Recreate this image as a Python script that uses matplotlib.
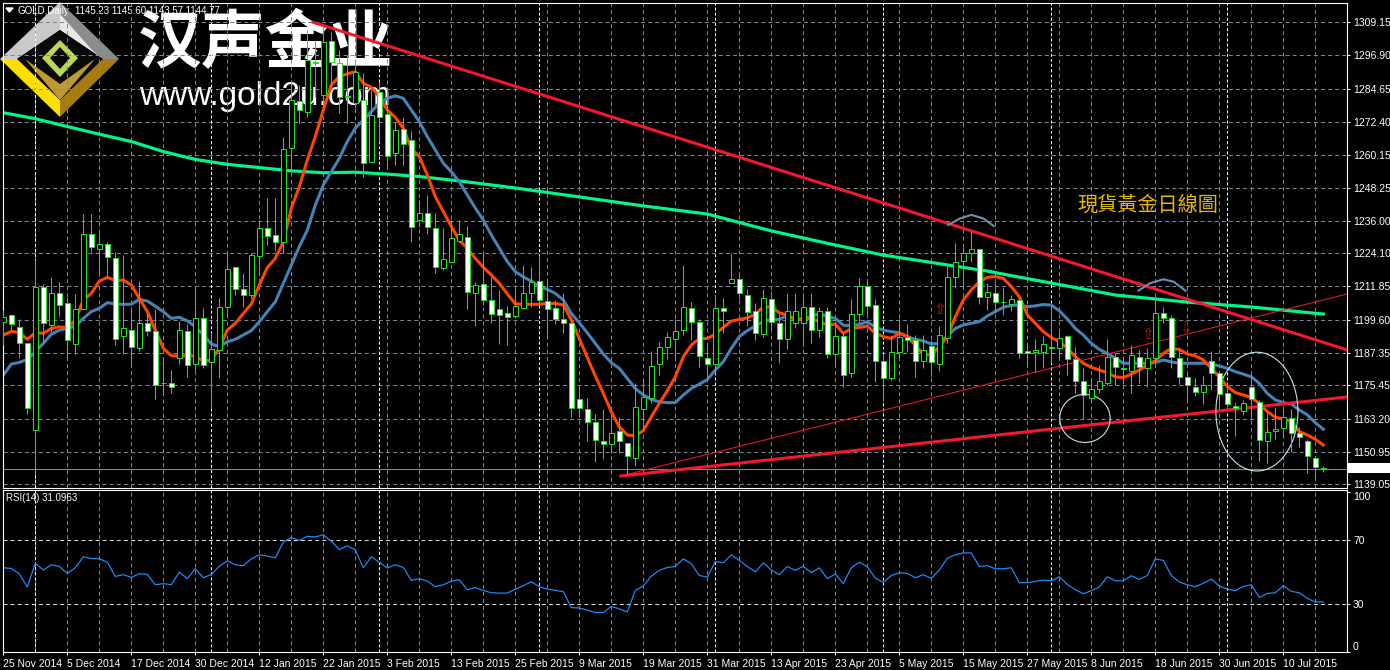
import matplotlib
matplotlib.use('Agg')
import matplotlib.pyplot as plt
import numpy as np
from matplotlib.patches import Ellipse, Polygon, Rectangle

plt.rcParams['font.family'] = ['Liberation Sans', 'DejaVu Sans']
plt.rcParams['lines.scale_dashes'] = False

# daily bars
opens = [1198.8, 1201.2, 1196.8, 1190.9, 1159.2, 1211.5, 1197.8, 1209.3, 1205.6, 1190.5,
         1203.4, 1231.0, 1225.7, 1227.3, 1222.2, 1193.5, 1196.0, 1189.3, 1198.3, 1195.3,
         1176.2, 1176.2, 1185.4, 1195.3, 1183.2, 1200.1, 1183.9, 1188.3, 1204.4, 1218.9,
         1210.8, 1208.6, 1222.9, 1233.2, 1230.7, 1228.3, 1262.8, 1280.2, 1276.2, 1294.6,
         1282.3, 1302.3, 1294.0, 1281.6, 1279.4, 1280.5, 1257.8, 1283.5, 1275.2, 1260.9,
         1269.8, 1265.8, 1236.3, 1238.8, 1233.5, 1218.8, 1220.7, 1228.7, 1230.2, 1209.3,
         1212.6, 1206.7, 1203.4, 1202.2, 1201.1, 1204.0, 1209.3, 1213.7, 1206.4, 1203.8,
         1200.0, 1198.3, 1170.3, 1166.6, 1161.8, 1154.8, 1153.7, 1158.5, 1154.1, 1148.9,
         1166.9, 1170.8, 1183.5, 1189.4, 1192.7, 1195.7, 1203.8, 1198.6, 1185.7, 1183.4,
         1203.8, 1213.2, 1214.7, 1208.6, 1202.7, 1194.2, 1207.1, 1198.3, 1192.4, 1198.3,
         1198.3, 1204.4, 1195.7, 1202.7, 1186.9, 1193.8, 1179.9, 1201.9, 1211.9, 1204.9,
         1184.3, 1178.0, 1187.8, 1193.1, 1192.0, 1184.5, 1189.8, 1183.2, 1192.8, 1215.5,
         1221.3, 1224.0, 1225.5, 1207.8, 1209.3, 1206.3, 1205.4, 1206.7, 1188.0, 1187.6,
         1187.6, 1189.4, 1189.1, 1193.5, 1185.0, 1176.9, 1170.7, 1174.0, 1176.4, 1186.0,
         1181.7, 1180.6, 1185.8, 1181.7, 1185.4, 1202.0, 1200.1, 1185.4, 1178.4, 1174.7,
         1172.9, 1184.3, 1180.1, 1172.5, 1167.9, 1165.9, 1174.7, 1169.2, 1154.9, 1158.5,
         1159.6, 1163.3, 1157.8, 1154.8, 1148.6, 1145.23]
highs = [1203.2, 1201.7, 1199.7, 1190.9, 1221.6, 1212.6, 1215.2, 1213.5, 1208.1, 1209.0,
         1238.5, 1238.5, 1232.6, 1228.2, 1224.5, 1223.4, 1203.8, 1213.8, 1201.9, 1203.4,
         1186.0, 1181.1, 1199.1, 1198.0, 1210.9, 1203.8, 1194.9, 1207.5, 1224.0, 1218.9,
         1216.7, 1224.0, 1236.3, 1244.4, 1244.4, 1266.7, 1287.8, 1286.0, 1306.2, 1302.6,
         1307.0, 1305.5, 1298.9, 1297.0, 1295.2, 1290.4, 1284.2, 1287.1, 1285.3, 1272.5,
         1274.1, 1269.2, 1243.7, 1245.5, 1238.8, 1233.3, 1236.3, 1236.3, 1234.1, 1213.6,
         1224.0, 1215.4, 1210.5, 1204.6, 1212.4, 1219.7, 1219.1, 1223.4, 1214.8, 1206.9,
         1209.3, 1200.7, 1175.3, 1170.7, 1165.1, 1166.6, 1163.9, 1163.9, 1154.1, 1176.2,
         1177.6, 1188.1, 1191.5, 1195.2, 1199.7, 1219.6, 1206.0, 1199.7, 1190.5, 1208.7,
         1207.5, 1224.0, 1216.9, 1210.8, 1205.6, 1210.8, 1210.3, 1201.7, 1209.3, 1209.3,
         1208.1, 1209.3, 1204.2, 1204.2, 1198.3, 1195.2, 1207.1, 1214.8, 1214.5, 1207.1,
         1187.2, 1194.0, 1199.7, 1198.0, 1194.0, 1194.0, 1192.1, 1197.3, 1219.2, 1227.7,
         1226.5, 1232.0, 1225.5, 1213.0, 1213.0, 1211.8, 1208.7, 1207.5, 1190.9, 1192.4,
         1193.6, 1204.4, 1195.8, 1194.0, 1189.7, 1181.7, 1178.0, 1182.9, 1192.5, 1187.2,
         1186.3, 1190.3, 1188.5, 1189.1, 1206.3, 1204.4, 1201.3, 1189.1, 1180.5, 1178.0,
         1178.9, 1188.1, 1180.1, 1176.8, 1169.4, 1170.1, 1179.9, 1170.1, 1165.2, 1167.6,
         1166.4, 1166.6, 1160.3, 1155.9, 1149.5, 1145.60]
lows = [1190.3, 1195.8, 1185.4, 1164.9, 1142.4, 1191.5, 1195.2, 1201.0, 1185.4, 1187.0,
        1203.4, 1224.5, 1215.7, 1214.8, 1190.3, 1187.0, 1183.2, 1188.2, 1193.6, 1170.4,
        1171.9, 1172.7, 1183.3, 1178.6, 1180.8, 1181.7, 1167.2, 1178.3, 1200.7, 1208.7,
        1204.4, 1207.5, 1217.5, 1227.1, 1225.0, 1224.0, 1254.7, 1272.0, 1274.2, 1281.6,
        1277.9, 1284.9, 1275.7, 1272.0, 1277.5, 1252.1, 1257.8, 1265.1, 1255.8, 1256.6,
        1256.6, 1228.3, 1233.9, 1231.0, 1216.7, 1217.9, 1220.7, 1227.7, 1203.5, 1197.3,
        1205.0, 1198.3, 1190.7, 1190.3, 1200.7, 1203.4, 1204.4, 1204.6, 1194.0, 1198.0,
        1194.8, 1163.9, 1163.9, 1155.1, 1147.3, 1148.3, 1150.4, 1150.4, 1143.0, 1145.7,
        1159.0, 1169.1, 1179.2, 1185.1, 1185.4, 1194.0, 1192.1, 1182.3, 1178.0, 1179.9,
        1194.6, 1213.0, 1207.2, 1197.3, 1192.1, 1193.1, 1195.8, 1183.8, 1188.8, 1196.4,
        1191.2, 1191.2, 1193.1, 1185.7, 1183.5, 1175.0, 1178.4, 1198.3, 1201.9, 1176.8,
        1169.8, 1177.4, 1185.4, 1187.8, 1178.6, 1181.7, 1178.6, 1180.9, 1190.9, 1211.2,
        1211.2, 1221.0, 1205.4, 1203.2, 1202.6, 1201.4, 1202.8, 1185.6, 1182.9, 1180.5,
        1182.0, 1183.6, 1185.0, 1179.3, 1172.8, 1162.9, 1169.2, 1172.5, 1175.6, 1175.6,
        1175.9, 1172.8, 1176.2, 1174.7, 1183.6, 1198.3, 1181.7, 1176.0, 1170.1, 1171.7,
        1168.6, 1173.7, 1167.0, 1167.6, 1156.8, 1164.6, 1162.7, 1147.7, 1147.0, 1155.7,
        1156.6, 1151.0, 1152.9, 1143.3, 1141.2, 1143.57]
closes = [1200.7, 1197.9, 1190.9, 1167.0, 1211.8, 1198.3, 1209.3, 1204.9, 1192.0, 1203.4,
          1231.0, 1226.2, 1227.3, 1222.6, 1192.7, 1196.4, 1189.4, 1198.3, 1195.3, 1175.7,
          1176.2, 1174.7, 1196.0, 1182.8, 1200.1, 1182.8, 1188.7, 1204.4, 1218.1, 1211.1,
          1208.6, 1223.3, 1233.2, 1230.3, 1228.4, 1262.3, 1280.5, 1276.8, 1295.2, 1294.0,
          1302.0, 1294.3, 1281.5, 1282.0, 1290.8, 1257.3, 1275.0, 1274.1, 1260.0, 1269.4,
          1264.2, 1233.9, 1238.8, 1233.9, 1218.9, 1221.8, 1229.6, 1231.1, 1209.7, 1212.3,
          1206.7, 1201.8, 1201.4, 1200.5, 1204.8, 1209.3, 1213.4, 1206.7, 1203.4, 1200.0,
          1198.3, 1167.2, 1167.3, 1161.8, 1155.2, 1153.7, 1158.1, 1154.8, 1149.3, 1167.6,
          1171.0, 1182.4, 1189.4, 1193.1, 1195.3, 1204.4, 1198.6, 1186.1, 1183.5, 1203.8,
          1202.7, 1214.7, 1209.3, 1202.3, 1194.6, 1207.5, 1198.6, 1192.7, 1202.7, 1202.7,
          1204.2, 1195.7, 1202.7, 1186.9, 1193.8, 1179.1, 1201.9, 1211.9, 1204.5, 1184.3,
          1178.0, 1187.8, 1193.1, 1192.0, 1184.3, 1188.3, 1183.9, 1193.9, 1215.5, 1221.0,
          1224.0, 1225.5, 1207.8, 1209.7, 1206.0, 1206.0, 1207.1, 1187.2, 1187.2, 1188.3,
          1190.6, 1189.3, 1192.8, 1185.0, 1176.9, 1171.8, 1174.0, 1176.9, 1185.8, 1182.1,
          1181.3, 1186.5, 1182.1, 1185.4, 1202.0, 1200.1, 1185.8, 1178.4, 1175.5, 1172.9,
          1175.5, 1179.9, 1172.1, 1168.5, 1167.0, 1168.8, 1170.4, 1155.2, 1158.2, 1159.3,
          1163.7, 1157.8, 1156.3, 1149.3, 1145.3, 1144.77]

# moving averages
ma_fast = [1194.0, 1195.3, 1194.9, 1192.4, 1194.9, 1194.6, 1196.4, 1197.0, 1196.7, 1199.5,
           1206.9, 1209.3, 1213.8, 1215.2, 1214.0, 1214.2, 1212.4, 1207.5, 1202.6, 1195.8,
           1189.1, 1186.4, 1186.2, 1186.4, 1186.2, 1184.4, 1184.8, 1189.1, 1195.8, 1198.3,
           1201.9, 1205.4, 1212.4, 1218.8, 1222.2, 1228.3, 1240.6, 1248.6, 1258.4, 1267.0,
           1276.8, 1286.0, 1289.1, 1290.1, 1290.9, 1286.6, 1285.2, 1281.7, 1276.8, 1274.1,
           1270.1, 1262.7, 1259.6, 1252.9, 1244.9, 1239.4, 1233.9, 1228.9, 1225.9, 1222.2,
           1218.9, 1216.1, 1213.0, 1209.1, 1205.5, 1205.3, 1205.3, 1205.3, 1205.6, 1205.6,
           1205.0, 1199.5, 1192.7, 1185.7, 1178.9, 1172.5, 1165.7, 1160.2, 1157.2, 1156.9,
           1158.8, 1163.9, 1168.8, 1173.5, 1178.6, 1186.0, 1190.3, 1192.7, 1192.7, 1194.3,
           1196.8, 1199.1, 1199.7, 1200.3, 1201.6, 1204.4, 1204.2, 1202.2, 1201.3, 1199.7,
           1199.7, 1200.1, 1198.9, 1197.6, 1198.0, 1194.6, 1196.4, 1196.8, 1197.3, 1194.6,
           1193.4, 1192.7, 1194.6, 1193.4, 1190.3, 1186.9, 1186.6, 1189.7, 1193.4, 1200.7,
           1206.9, 1210.6, 1213.6, 1215.2, 1215.5, 1214.8, 1211.8, 1208.1, 1201.4, 1198.3,
           1195.2, 1193.1, 1191.5, 1189.1, 1186.0, 1183.6, 1182.1, 1181.1, 1180.1, 1178.6,
           1178.3, 1179.6, 1181.1, 1182.9, 1184.5, 1187.2, 1189.1, 1188.7, 1187.0, 1186.3,
           1184.8, 1181.7, 1178.6, 1175.0, 1172.8, 1171.9, 1171.0, 1168.8, 1165.8, 1163.7,
           1163.1, 1162.1, 1158.4, 1157.2, 1155.6, 1153.5]
ma_slow = [1179.2, 1183.3, 1183.9, 1185.0, 1187.8, 1190.9, 1194.3, 1195.8, 1196.4, 1197.3,
           1200.1, 1202.6, 1203.8, 1205.9, 1205.4, 1205.3, 1205.3, 1207.1, 1206.5, 1204.6,
           1202.6, 1200.1, 1200.5, 1199.2, 1197.0, 1194.0, 1190.7, 1189.7, 1191.5, 1192.4,
           1194.0, 1195.6, 1198.9, 1202.6, 1206.2, 1213.0, 1219.7, 1226.5, 1232.6, 1241.8,
           1249.2, 1254.1, 1259.0, 1265.2, 1270.1, 1273.1, 1276.2, 1279.3, 1281.1, 1282.0,
           1281.1, 1276.8, 1272.5, 1267.0, 1262.1, 1257.2, 1254.1, 1250.4, 1245.5, 1240.7,
           1236.3, 1230.8, 1225.9, 1221.0, 1217.3, 1215.4, 1213.8, 1211.8, 1210.8, 1209.3,
           1206.9, 1201.9, 1198.5, 1194.8, 1190.9, 1187.0, 1183.8, 1181.7, 1178.0, 1174.3,
           1171.9, 1170.3, 1169.4, 1169.1, 1169.1, 1171.9, 1174.3, 1175.9, 1177.6, 1181.1,
           1184.2, 1189.1, 1193.4, 1195.6, 1197.3, 1198.9, 1199.7, 1199.7, 1201.3, 1199.7,
           1200.1, 1200.7, 1201.9, 1200.7, 1200.1, 1197.6, 1197.4, 1197.9, 1198.9, 1196.8,
           1195.8, 1195.2, 1194.8, 1193.4, 1192.4, 1191.8, 1190.7, 1190.9, 1193.6, 1196.4,
           1197.7, 1198.3, 1198.9, 1201.0, 1202.6, 1204.2, 1204.9, 1205.0, 1204.4, 1204.7,
           1205.2, 1205.0, 1202.9, 1199.9, 1196.4, 1194.0, 1190.9, 1188.7, 1187.2, 1185.4,
           1183.6, 1183.6, 1183.6, 1183.6, 1183.9, 1184.8, 1184.1, 1183.6, 1183.6, 1183.6,
           1183.6, 1183.3, 1182.6, 1181.7, 1180.5, 1179.6, 1178.6, 1176.2, 1172.5, 1170.1,
           1169.1, 1168.6, 1166.4, 1164.6, 1161.7, 1159.3]
ma_long_bars = [0, 4, 8, 12, 16, 20, 24, 28, 32, 36, 40, 44, 48, 52, 56, 57, 64, 72, 80, 88,
                96, 104, 110, 114, 123, 131, 139, 148, 156, 165]
ma_long = [1275.8, 1273.6, 1270.7, 1267.9, 1265.2, 1261.5, 1258.6, 1256.8, 1255.6, 1254.4,
           1253.7, 1253.9, 1253.2, 1252.3, 1251.0, 1250.7, 1248.1, 1244.8, 1241.5, 1238.5,
           1232.3, 1227.1, 1223.4, 1221.6, 1217.5, 1213.1, 1208.7, 1206.1, 1204.3, 1201.7]

rsi = [52.4, 52.0, 48.7, 40.4, 55.3, 51.0, 54.3, 53.2, 48.9, 52.4,
       59.3, 58.2, 58.0, 55.9, 47.0, 48.1, 46.4, 48.7, 48.3, 41.8,
       42.5, 41.8, 49.7, 45.6, 51.8, 46.2, 48.3, 53.4, 56.8, 54.3,
       53.7, 58.0, 60.5, 59.7, 58.6, 68.4, 71.3, 69.4, 72.1, 71.7,
       73.0, 69.0, 63.8, 66.1, 63.6, 52.4, 59.3, 55.9, 52.2, 54.3,
       52.6, 44.5, 45.6, 44.1, 40.6, 41.8, 44.1, 44.9, 38.7, 40.0,
       38.3, 36.8, 36.6, 36.6, 39.1, 41.2, 43.7, 40.6, 39.1, 38.3,
       37.5, 27.5, 27.3, 25.9, 24.4, 24.4, 28.3, 26.7, 24.8, 38.3,
       41.0, 47.2, 50.8, 52.6, 53.2, 58.0, 54.9, 47.6, 46.6, 56.4,
       55.5, 60.5, 57.0, 53.2, 49.9, 55.5, 51.0, 48.1, 53.2, 50.8,
       53.4, 49.3, 52.4, 45.6, 48.5, 42.5, 52.4, 55.9, 53.0, 46.0,
       43.3, 47.6, 49.3, 48.9, 46.2, 48.1, 45.8, 51.0, 58.4, 60.5,
       61.7, 61.7, 53.2, 53.7, 51.8, 51.8, 52.4, 43.1, 43.1, 43.9,
       44.7, 44.3, 46.8, 42.0, 38.7, 36.2, 38.1, 40.4, 46.8, 44.3,
       44.3, 47.4, 45.1, 47.6, 58.0, 57.0, 47.6, 43.5, 41.8, 40.6,
       42.7, 45.4, 41.0, 39.1, 38.1, 40.8, 41.8, 33.9, 36.4, 36.8,
       41.2, 37.7, 36.8, 33.3, 31.0, 31.0963]

# axis labels
price_ticks = [1309.15, 1296.90, 1284.65, 1272.40, 1260.15, 1248.25, 1236.00, 1224.10,
               1211.85, 1199.60, 1187.35, 1175.45, 1163.20, 1150.95, 1139.05]
date_labels = ['25 Nov 2014', '5 Dec 2014', '17 Dec 2014', '30 Dec 2014', '12 Jan 2015',
               '22 Jan 2015', '3 Feb 2015', '13 Feb 2015', '25 Feb 2015', '9 Mar 2015',
               '19 Mar 2015', '31 Mar 2015', '13 Apr 2015', '23 Apr 2015', '5 May 2015',
               '15 May 2015', '27 May 2015', '8 Jun 2015', '18 Jun 2015', '30 Jun 2015',
               '10 Jul 2015']
month_bars = [4, 26, 47, 67, 89, 110, 131, 153]
last_price = 1144.77

# hand drawn objects on the chart: (bar, price)
falling_line = ([38.7, 168.0], [1309.1, 1188.5])
rising_line = ([77.2, 168.0], [1142.1, 1171.2])
thin_rising_line = ([77.2, 168.0], [1142.1, 1209.1])
arc_bars_1 = [118.1, 119.6, 121.0, 122.5, 123.8]
arc_price_1 = [1234.5, 1236.9, 1238.2, 1236.9, 1234.1]
arc_bars_2 = [141.9, 143.3, 145.0, 146.3, 147.8]
arc_price_2 = [1210.3, 1213.0, 1214.5, 1213.6, 1210.2]

W, H = 1390, 670
GRID = '#778899'
CANDLE = '#1fe01f'


def px_axes(fig, left, top, right, bottom, **kw):
    return fig.add_axes([left / W, 1 - bottom / H, (right - left) / W, (bottom - top) / H], **kw)


fig = plt.figure(figsize=(W / 100, H / 100), dpi=100, facecolor='black')

# logo layer, sits behind the candles
bg = px_axes(fig, 0, 0, W, H, zorder=0)
bg.set_xlim(0, W)
bg.set_ylim(H, 0)
bg.axis('off')
bg.text(18, 10.5, 'GOLD,Daily', color='white', fontsize=7, va='center')
bg.text(75, 10.5, '1145.23 1145.60 1143.57 1144.77', color='white', fontsize=7, va='center')
bg.add_patch(Polygon([(6, 8), (13, 8), (9.5, 12)], color='white'))

logo_parts = [
    ([(0, 59), (60, 2), (60, 30), (17, 59)], '#c9c9c9'),
    ([(60, 2), (119, 59), (103, 59), (60, 30)], '#8c8c8c'),
    ([(60, 14), (60, 30), (103, 59), (92, 50)], '#e8e8e8'),
    ([(0, 59), (60, 117), (60, 100), (25, 59)], '#ffdf00'),
    ([(119, 59), (60, 117), (60, 100), (95, 59)], '#a67c12'),
    ([(17, 59), (60, 30), (103, 59), (60, 100)], '#0a0a0a'),
    ([(25, 59), (60, 100), (95, 59), (60, 84)], '#bd9a35'),
    ([(60, 40), (78, 58), (60, 77), (42, 58)], '#bcd65a'),
    ([(60, 47), (70, 58), (60, 69), (50, 58)], '#0a0a0a'),
]
for pts, col in logo_parts:
    bg.add_patch(Polygon(pts, closed=True, facecolor=col, edgecolor='none'))
bg.text(266, 44, '汉声金业', color='white', fontsize=46, fontweight='bold',
        family='Noto Sans CJK SC', ha='center', va='center')
bg.text(265, 96, 'www.gold2u.com', color='white', fontsize=24, ha='center', va='center')

# price panel
ax = px_axes(fig, 3, 3, 1347, 487.5, zorder=1)
ax.patch.set_alpha(0)
ax.set_xlim(-0.04, 167.96)
ax.set_ylim(1137.87, 1316.17)

bars = np.arange(len(closes))
grid_bars = np.arange(0, 166, 4)

for p in price_ticks:
    ax.axhline(p, color=GRID, lw=0.72, ls=(0, (2.9, 2.2)), zorder=1)
for b in grid_bars:
    ax.axvline(b, color=GRID, lw=0.72, ls=(0, (2.9, 2.2)), zorder=1)
for b in month_bars:
    ax.axvline(b, color='white', lw=0.72, ls=(0, (2.2, 1.5)), zorder=1.2)
ax.axhline(last_price, color=GRID, lw=0.8, zorder=1.5)

ax.plot(ma_long_bars, ma_long, color='#00f58a', lw=2.3, zorder=2)
ax.plot(bars, ma_slow, color='#4682b4', lw=2.2, zorder=2.1)
ax.plot(bars, ma_fast, color='#ff4500', lw=2.2, zorder=2.2)

ax.plot(*falling_line, color='#f5172f', lw=2.2, zorder=2.5)
ax.plot(*rising_line, color='#f5172f', lw=2.2, zorder=2.5)
ax.plot(*thin_rising_line, color='#f5172f', lw=0.72, zorder=2.5)
ax.plot(arc_bars_1, arc_price_1, color='#6a8fb5', lw=1.5, zorder=2.6)
ax.plot(arc_bars_2, arc_price_2, color='#6a8fb5', lw=1.5, zorder=2.6)
ax.add_patch(Ellipse((135.2, 1163.3), 6.3, 17.7, fill=False, ec='#bfe6ef', lw=0.8, zorder=2.6))
ax.add_patch(Ellipse((156.7, 1165.8), 10.25, 43.7, fill=False, ec='#bfe6ef', lw=0.8, zorder=2.6))

# hollow arrows
ax.text(117, 1203.5, '⇧', color='#d01010', fontsize=11, family='DejaVu Sans', ha='center', va='center', zorder=2.7)
ax.text(143, 1194.0, '⇧', color='#d01010', fontsize=11, family='DejaVu Sans', ha='center', va='center', zorder=2.7)
ax.text(147.8, 1196.7, '⇩', color='#a80f0f', fontsize=11, family='DejaVu Sans', ha='center', va='center', zorder=2.7)
ax.text(157.8, 1159.6, '⇩', color='#a80f0f', fontsize=11, family='DejaVu Sans', ha='center', va='center', zorder=2.7)

# candles
o = np.array(opens)
c = np.array(closes)
ax.vlines(bars, lows, highs, color=CANDLE, lw=0.72, zorder=3)
fills = ['white' if cl < op else 'black' for op, cl in zip(o, c)]
ax.bar(bars, np.abs(c - o), bottom=np.minimum(o, c), width=0.55, color=fills,
       edgecolor=CANDLE, linewidth=0.72, zorder=3.1)

ax.text(1148 / 1390, 1 - 205 / 670, '現貨黃金日線圖', transform=fig.transFigure, color='#e8b800',
        fontsize=14.5, family='Noto Sans CJK TC', ha='center', va='center', zorder=4)

ax.set_xticks([])
ax.yaxis.tick_right()
ax.set_yticks(price_ticks)
ax.set_yticklabels(['%.2f' % p for p in price_ticks])
ax.tick_params(axis='y', colors='white', length=2.2, width=0.72, pad=2.2, labelsize=7.5)
for s in ax.spines.values():
    s.set_color('white')
    s.set_linewidth(0.8)

# current price tag
ax.text(1348 / W, 1 - 467.5 / H, '1144.77', transform=fig.transFigure, color='black', fontsize=7.5,
        va='center', ha='left', zorder=6, clip_on=False,
        bbox=dict(boxstyle='square,pad=0', fc='none', ec='none'))
fig.add_artist(Rectangle((1348 / W, 1 - 473 / H), 42 / W, 10.5 / H, transform=fig.transFigure,
                         facecolor='white', edgecolor='none', zorder=5))
fig.texts.clear() if False else None

# RSI panel
ax2 = px_axes(fig, 3, 490, 1347, 652, zorder=1)
ax2.set_facecolor('black')
ax2.set_xlim(-0.04, 167.96)
ax2.set_ylim(-0.2, 101)
for b in grid_bars:
    ax2.axvline(b, color=GRID, lw=0.72, ls=(0, (2.9, 2.2)), zorder=1)
for b in month_bars:
    ax2.axvline(b, color='white', lw=0.72, ls=(0, (2.2, 1.5)), zorder=1.2)
for lvl in [70, 30, 0]:
    ax2.axhline(lvl, color='#d8d8d8', lw=0.72, ls=(0, (2.9, 2.2)), zorder=1.2)
ax2.plot(bars, rsi, color='#1e90ff', lw=0.85, zorder=2)
ax2.text(0.0025, 0.95, 'RSI(14) 31.0963', transform=ax2.transAxes, color='white', fontsize=7,
         va='center', ha='left')

ax2.yaxis.tick_right()
ax2.set_yticks([100, 70, 30, 0])
ax2.set_yticklabels(['100', '70', '30', '0'])
ax2.tick_params(axis='y', colors='white', length=2.2, width=0.72, pad=2.2, labelsize=7.5)
ylabels = ax2.get_yticklabels()
ylabels[0].set_va('top')
ylabels[3].set_va('bottom')

ax2.set_xticks(np.arange(0, 161, 8))
ax2.set_xticklabels(date_labels, ha='left')
ax2.tick_params(axis='x', colors='white', length=2.2, width=0.72, pad=3, labelsize=7.5)
for s in ax2.spines.values():
    s.set_color('white')
    s.set_linewidth(0.8)

fig.savefig('out.png', dpi=100, facecolor='black')
